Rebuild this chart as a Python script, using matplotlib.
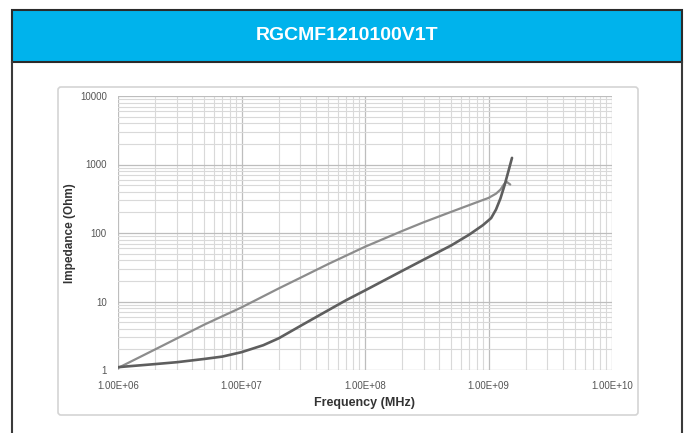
import matplotlib
matplotlib.use("Agg")
import matplotlib.pyplot as plt
from matplotlib.patches import Rectangle, FancyBboxPatch
from matplotlib.ticker import LogLocator, NullFormatter, FixedLocator

plt.rcParams['font.family'] = ['Liberation Sans', 'DejaVu Sans']

title = "RGCMF1210100V1T"
x_label = "Frequency (MHz)"
y_label = "Impedance (Ohm)"

x_ticks = [1e6, 1e7, 1e8, 1e9, 1e10]
x_tick_labels = ["1.00E+06", "1.00E+07", "1.00E+08", "1.00E+09", "1.00E+10"]
y_ticks = [1, 10, 100, 1000, 10000]
y_tick_labels = ["1", "10", "100", "1000", "10000"]

freq_upper = [1e6, 2e6, 5e6, 1e7, 2e7, 3e7, 5e7, 1e8, 2e8, 3e8, 5e8, 8e8, 1e9, 1.15e9,
              1.25e9, 1.33e9, 1.4e9, 1.5e9]
imp_upper = [1.07, 2.0, 4.6, 8.2, 15.5, 22.2, 35, 63, 107, 144, 204, 280, 325, 375,
             430, 510, 560, 510]

freq_lower = [1e6, 2e6, 3e6, 5e6, 7e6, 1e7, 1.5e7, 2e7, 3e7, 5e7, 7e7, 1e8, 2e8, 3e8,
              5e8, 7e8, 9e8, 1.05e9, 1.15e9, 1.25e9, 1.35e9, 1.45e9, 1.55e9]
imp_lower = [1.1, 1.22, 1.3, 1.45, 1.57, 1.82, 2.3, 2.9, 4.4, 7.4, 10.4, 14.5, 28, 41,
             66, 95, 130, 165, 220, 320, 500, 800, 1250]

W, H = 688, 433
fig = plt.figure(figsize=(W / 100, H / 100), dpi=100)
fig.patch.set_facecolor("white")

# background canvas in pixel coords
bg = fig.add_axes([0, 0, 1, 1])
bg.set_xlim(0, W)
bg.set_ylim(H, 0)
bg.axis("off")
bg.add_patch(Rectangle((12, 10), 670, 52, facecolor="#00B3EC", edgecolor="#2b2b2b", lw=1.5, zorder=2))
bg.plot([12, 12], [62, H], color="#3a3a3a", lw=1.5, zorder=2)
bg.plot([682, 682], [62, H], color="#3a3a3a", lw=1.5, zorder=2)
bg.text(347, 36, title, color="white", fontsize=14, fontweight="bold", ha="center", va="center")
bg.add_patch(FancyBboxPatch((58, 87), 580, 328, boxstyle="round,pad=0,rounding_size=3",
                            facecolor="white", edgecolor="#d4d4d4", lw=1.2, zorder=1))
bg.text(365, 403, x_label, fontsize=9, fontweight="bold", color="#333333", ha="center", va="center")
bg.text(70, 233, y_label, fontsize=8.5, fontweight="bold", color="#333333", ha="center", va="center",
        rotation=90)

# main axes
left, right = 118, 612
top, bottom = 96, 370
ax = fig.add_axes([left / W, (H - bottom) / H, (right - left) / W, (bottom - top) / H])
ax.set_facecolor("none")
ax.set_xscale("log")
ax.set_yscale("log")
ax.set_xlim(1e6, 1e10)
ax.set_ylim(1, 1e4)

ax.xaxis.set_major_locator(FixedLocator(x_ticks))
ax.set_xticklabels(x_tick_labels)
ax.yaxis.set_major_locator(FixedLocator(y_ticks))
ax.set_yticklabels(y_tick_labels)
ax.xaxis.set_minor_locator(LogLocator(base=10, subs=range(2, 10)))
ax.yaxis.set_minor_locator(LogLocator(base=10, subs=range(2, 10)))
ax.xaxis.set_minor_formatter(NullFormatter())
ax.yaxis.set_minor_formatter(NullFormatter())

ax.grid(True, which="major", color="#bdbdbd", lw=0.9)
ax.grid(True, which="minor", color="#d9d9d9", lw=0.8)
ax.set_axisbelow(True)
for s in ax.spines.values():
    s.set_visible(False)
ax.tick_params(which="both", length=0)
ax.tick_params(axis="x", labelsize=7, labelcolor="#555555", pad=8)
ax.tick_params(axis="y", labelsize=7, labelcolor="#555555", pad=8)

ax.plot(freq_upper, imp_upper, color="#8c8c8c", lw=1.6, solid_capstyle="round",
        solid_joinstyle="round", zorder=3)
ax.plot(freq_lower, imp_lower, color="#5e5e5e", lw=1.9, solid_capstyle="round",
        solid_joinstyle="round", zorder=4)

fig.savefig("out.png", dpi=100)
